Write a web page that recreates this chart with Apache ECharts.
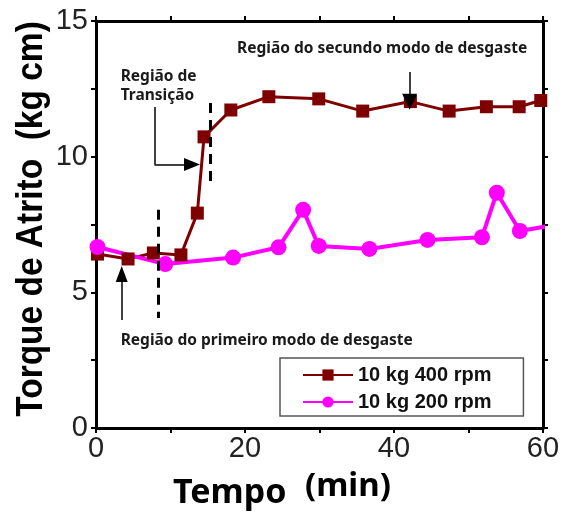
<!DOCTYPE html>
<html><head><meta charset="utf-8">
<script src="https://cdn.jsdelivr.net/npm/echarts@6/dist/echarts.min.js"></script>
<style>html,body{margin:0;padding:0;background:#fff}#c{width:563px;height:514px}</style>
</head><body><div id="c"></div>
<script>
// ---- data ----
const seriesNames = ['10 kg 400 rpm', '10 kg 200 rpm'];
const time400   = [0.2, 4.3, 7.7, 11.4, 13.6, 14.5, 18.1, 23.2, 29.9, 35.8, 42.2, 47.4, 52.4, 56.8, 59.7];
const torque400 = [6.41, 6.23, 6.45, 6.38, 7.92, 10.73, 11.72, 12.21, 12.13, 11.68, 12.03, 11.68, 11.84, 11.84, 12.07];
const time200   = [0.2, 9.3, 18.4, 24.5, 27.8, 29.9, 36.7, 44.5, 51.8, 53.8, 56.9, 61.5];
const torque200 = [6.67, 6.04, 6.28, 6.66, 8.04, 6.71, 6.60, 6.93, 7.03, 8.67, 7.26, 7.48];
const xTickLabels = [0, 20, 40, 60];
const yTickLabels = [0, 5, 10, 15];
const xTitle = ['Tempo', '(min)'];
const yTitle = 'Torque de Atrito  (kg cm)';
const noteTexts = ['Região do secundo modo de desgaste', 'Região de\nTransição', 'Região do primeiro modo de desgaste'];
const noteCoords = [[18.93, 13.97], [3.31, 12.6], [3.31, 3.24]];
const dashedX = [8.3, 15.4];
const dashedY = [[8.04, 4.05], [11.98, 9.03]];

// ---- chart ----
const zip = (a, b) => a.map((v, i) => [v, b[i]]);
const chart = echarts.init(document.getElementById('c'), null, {renderer: 'canvas'});
const axisCommon = {
  axisLine: {show: true, onZero: false, lineStyle: {color: '#000', width: 3}},
  axisTick: {show: true, inside: false, length: 5, lineStyle: {color: '#000', width: 2}},
  splitLine: {show: false}
};
const tickFont = "'Liberation Sans Narrow', 'Liberation Sans', Arial, sans-serif";
const noteFont = "'Noto Sans', 'Open Sans', sans-serif";

const option = {
  animation: false,
  backgroundColor: '#fff',
  grid: {left: 96, right: 20, top: 21, bottom: 86, containLabel: false},
  legend: {
    orient: 'vertical', left: 280, top: 358,
    data: seriesNames,
    itemWidth: 50, itemHeight: 14, itemGap: 7,
    padding: [7, 32, 4, 22],
    backgroundColor: '#fff', borderColor: '#555', borderWidth: 1.5, borderRadius: 0,
    textStyle: {fontSize: 20, fontWeight: 'bold', color: '#111', fontFamily: "'Liberation Sans', Arial, sans-serif"}
  },
  xAxis: [
    Object.assign({type: 'value', min: 0, max: 60, interval: 10, position: 'bottom',
      axisLabel: {formatter: v => xTickLabels.includes(v) ? String(v) : '', fontSize: 29, fontFamily: tickFont, color: '#222', margin: 6}}, axisCommon),
    Object.assign({type: 'value', min: 0, max: 60, interval: 10, position: 'top', axisLabel: {show: false}}, axisCommon)
  ],
  yAxis: [
    Object.assign({type: 'value', min: 0, max: 15, interval: 2.5, position: 'left',
      axisLabel: {formatter: v => yTickLabels.includes(v) ? String(v) : '', fontSize: 29, fontFamily: tickFont, color: '#222', margin: 8}}, axisCommon),
    Object.assign({type: 'value', min: 0, max: 15, interval: 2.5, position: 'right', axisLabel: {show: false}}, axisCommon)
  ],
  graphic: [
    {type: 'text', x: 32, y: 219, rotation: Math.PI / 2, scaleX: 0.93, scaleY: 1,
      style: {text: yTitle, font: "bold 36px 'Liberation Sans', Arial, sans-serif", fill: '#000', align: 'center', verticalAlign: 'middle'}},
    {type: 'text', left: 173, top: 476, style: {text: xTitle[0], font: "bold 34px 'Noto Sans'", fill: '#000'}},
    {type: 'text', left: 305, top: 470, style: {text: xTitle[1], font: "bold 33px 'Noto Sans'", fill: '#000'}}
  ],
  series: [
    {
      name: seriesNames[0], type: 'line', data: zip(time400, torque400),
      symbol: 'rect', symbolSize: 13, clip: true,
      itemStyle: {color: '#7F0000'}, lineStyle: {color: '#7F0000', width: 3},
      markLine: {
        silent: true, animation: false, symbol: ['none', 'none'], label: {show: false},
        emphasis: {disabled: true},
        lineStyle: {color: '#000', width: 1.5, type: 'solid'},
        data: [
          [{coord: [dashedX[0], dashedY[0][0]], lineStyle: {type: [10, 7], width: 3, color: '#000'}}, {coord: [dashedX[0], dashedY[0][1]]}],
          [{coord: [dashedX[1], dashedY[1][0]], lineStyle: {type: [10, 7], width: 3, color: '#000'}}, {coord: [dashedX[1], dashedY[1][1]]}],
          [{coord: [7.85, 11.83]}, {coord: [7.85, 9.71]}],
          [{coord: [7.85, 9.71]}, {coord: [12.89, 9.71], symbol: 'triangle', symbolSize: [13, 16]}],
          [{coord: [42.1, 13.12]}, {coord: [42.1, 12.02], symbol: 'triangle', symbolSize: [15, 16]}],
          [{coord: [3.45, 3.98]}, {coord: [3.45, 5.68], symbol: 'triangle', symbolSize: [12, 16]}]
        ]
      },
      markPoint: {
        silent: true, animation: false, symbol: 'circle', symbolSize: 0,
        label: {show: true, position: 'right', distance: 0, formatter: p => p.name,
          fontFamily: noteFont, fontWeight: 'bold', fontSize: 15.5, lineHeight: 19, color: '#1a1a1a'},
        data: noteTexts.map((t, i) => ({name: t, coord: noteCoords[i]}))
      }
    },
    {
      name: seriesNames[1], type: 'line', data: zip(time200, torque200),
      symbol: 'circle', symbolSize: 16, clip: true,
      itemStyle: {color: '#FF00FF'}, lineStyle: {color: '#FF00FF', width: 4}
    }
  ]
};
chart.setOption(option);
</script>
</body></html>
